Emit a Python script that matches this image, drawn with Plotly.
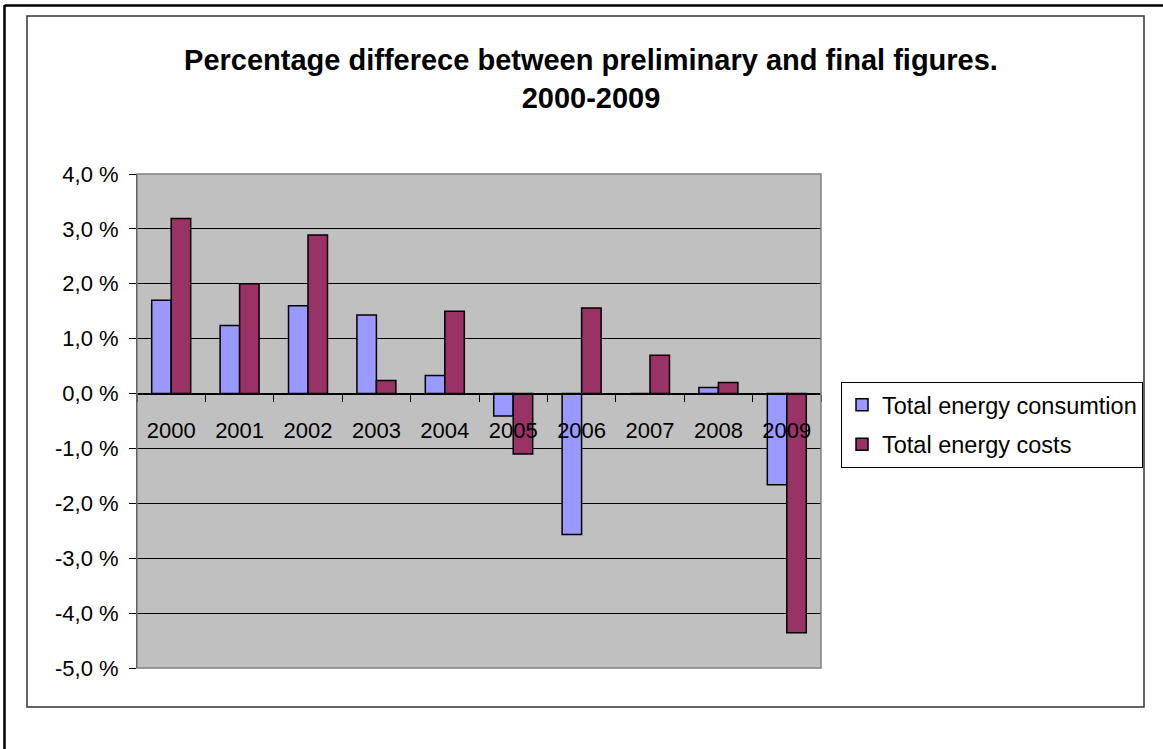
import plotly.graph_objects as go

years = ["2000", "2001", "2002", "2003", "2004", "2005", "2006", "2007", "2008", "2009"]
consumption = [1.70, 1.24, 1.60, 1.43, 0.33, -0.41, -2.57, 0.0, 0.11, -1.66]
costs = [3.19, 2.00, 2.89, 0.24, 1.50, -1.10, 1.56, 0.70, 0.20, -4.36]
series_names = ["Total energy consumtion", "Total energy costs"]
y_ticks = [4, 3, 2, 1, 0, -1, -2, -3, -4, -5]
y_tick_text = ["4,0 %", "3,0 %", "2,0 %", "1,0 %", "0,0 %", "-1,0 %", "-2,0 %", "-3,0 %", "-4,0 %", "-5,0 %"]

W, H = 1163, 749
PL, PR, PT, PB = 137, 821, 174, 668  # plot area in pixels
FONT = "Arial, Liberation Sans, sans-serif"


def px(x):
    return (x - PL) / (PR - PL)


def py(y):
    return (PB - y) / (PB - PT)


fig = go.Figure()
fig.add_trace(go.Bar(
    x=years, y=consumption, name=series_names[0],
    marker=dict(color="#9999FF", line=dict(color="black", width=1.5)),
    legendgroup="a",
))
fig.add_trace(go.Bar(
    x=years, y=costs, name=series_names[1],
    marker=dict(color="#993366", line=dict(color="black", width=1.5)),
    legendgroup="b",
))

shapes = [
    # plot area border
    dict(type="rect", xref="paper", yref="paper", x0=0, x1=1, y0=0, y1=1,
         line=dict(color="#808080", width=1.5), layer="above"),
    # chart area border
    dict(type="rect", xref="paper", yref="paper", x0=px(27), x1=px(1144), y0=py(707), y1=py(16),
         line=dict(color="#333333", width=1.5), layer="above"),
    # outer frame (left and top edges)
    dict(type="line", xref="paper", yref="paper", x0=px(4.5), x1=px(4.5), y0=py(760), y1=py(5),
         line=dict(color="black", width=2.5)),
    dict(type="line", xref="paper", yref="paper", x0=px(4.5), x1=px(1170), y0=py(5.5), y1=py(5.5),
         line=dict(color="black", width=2.5)),
]

fig.update_layout(
    width=W, height=H,
    margin=dict(l=PL, r=W - PR, t=PT, b=H - PB),
    paper_bgcolor="white",
    plot_bgcolor="#C0C0C0",
    barmode="group",
    bargap=0.43,
    bargroupgap=0,
    font=dict(family=FONT, size=22, color="black"),
    title=dict(
        text="<b>Percentage differece between preliminary and final figures.</b><br><b>2000-2009</b>",
        x=px(591), xanchor="center", xref="paper",
        y=1 - 70 / H, yanchor="middle", yref="container",
        font=dict(family=FONT, size=29, color="black"),
    ),
    legend=dict(
        x=px(841), y=py(382), xanchor="left", yanchor="top",
        bordercolor="black", borderwidth=1, bgcolor="white",
        font=dict(family=FONT, size=23.5),
        traceorder="grouped", tracegroupgap=6,
    ),
    shapes=shapes,
    showlegend=True,
)

fig.update_yaxes(
    range=[-5, 4], tickvals=y_ticks, ticktext=y_tick_text,
    showgrid=True, gridcolor="black", gridwidth=1,
    zeroline=False,
    showline=True, linecolor="black", linewidth=1,
    ticks="outside", ticklen=7, tickcolor="black",
    ticklabelstandoff=6,
    tickfont=dict(family=FONT, size=22),
)
fig.update_xaxes(
    type="category",
    anchor="free", position=5 / 9,
    showline=True, linecolor="black", linewidth=1,
    ticks="outside", ticklen=7, tickcolor="black", tickson="boundaries",
    showgrid=False,
    ticklabelstandoff=17,
    tickfont=dict(family=FONT, size=22),
)

fig.write_html("out.html")
